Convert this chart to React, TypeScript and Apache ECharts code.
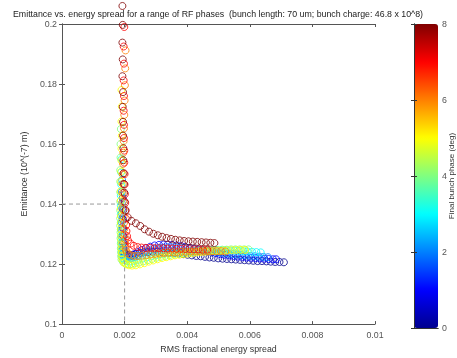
import React, { useEffect, useRef } from "react";
import * as echarts from "echarts";

const phaseValues = [0, 1, 2, 3, 4, 5, 6, 7, 8];
const phaseColors = ["#00008f", "#0000ff", "#0080ff", "#00ffff", "#80ff80", "#ffff00", "#ff8000", "#ff0000", "#800000"];

const xTicks = [0, 0.002, 0.004, 0.006, 0.008, 0.01];
const yTicks = [0.1, 0.12, 0.14, 0.16, 0.18, 0.2];
const colorbarTicks = [0, 2, 4, 6, 8];
const guideX = [0, 0.002, 0.002];
const guideY = [0.14, 0.14, 0.1];

const phase0 = [[0.00196,0.1380],[0.00195,0.1348],[0.00195,0.1318],[0.00196,0.1292],[0.00196,0.1270],[0.00197,0.1253],[0.00198,0.1242],[0.00201,0.1235],[0.00207,0.1231],[0.00215,0.1230],[0.00225,0.1231],[0.00236,0.1234],[0.00248,0.1237],[0.00261,0.1239],[0.00275,0.1240],[0.00289,0.1241],[0.00303,0.1241],[0.00317,0.1240],[0.00331,0.1239],[0.00345,0.1238],[0.00359,0.1237],[0.00373,0.1235],[0.00387,0.1233],[0.00401,0.1231],[0.00415,0.1229],[0.00429,0.1227],[0.00443,0.1226],[0.00457,0.1224],[0.00471,0.1222],[0.00485,0.1221],[0.00499,0.1219],[0.00513,0.1218],[0.00527,0.1217],[0.00541,0.1216],[0.00555,0.1215],[0.00569,0.1214],[0.00583,0.1213],[0.00597,0.1212],[0.00611,0.1211],[0.00625,0.1210],[0.00639,0.1210],[0.00653,0.1209],[0.00667,0.1208],[0.00681,0.1207],[0.00695,0.1207],[0.00709,0.1206]];
const phase1 = [[0.00194,0.1420],[0.00193,0.1385],[0.00193,0.1352],[0.00193,0.1323],[0.00194,0.1297],[0.00194,0.1274],[0.00195,0.1255],[0.00196,0.1240],[0.00199,0.1230],[0.00205,0.1225],[0.00213,0.1224],[0.00222,0.1227],[0.00232,0.1233],[0.00243,0.1240],[0.00255,0.1247],[0.00268,0.1253],[0.00282,0.1258],[0.00296,0.1262],[0.00310,0.1264],[0.00324,0.1265],[0.00338,0.1265],[0.00352,0.1264],[0.00366,0.1262],[0.00380,0.1260],[0.00394,0.1257],[0.00408,0.1254],[0.00422,0.1251],[0.00436,0.1248],[0.00450,0.1245],[0.00464,0.1242],[0.00478,0.1239],[0.00492,0.1236],[0.00506,0.1233],[0.00520,0.1231],[0.00534,0.1229],[0.00548,0.1227],[0.00562,0.1225],[0.00576,0.1224],[0.00590,0.1222],[0.00604,0.1221],[0.00618,0.1220],[0.00632,0.1219],[0.00646,0.1218],[0.00660,0.1217],[0.00674,0.1216],[0.00684,0.1216]];
const phase2 = [[0.00192,0.1480],[0.00191,0.1440],[0.00191,0.1403],[0.00191,0.1370],[0.00191,0.1340],[0.00192,0.1313],[0.00192,0.1289],[0.00193,0.1268],[0.00193,0.1250],[0.00194,0.1236],[0.00197,0.1226],[0.00203,0.1220],[0.00211,0.1218],[0.00220,0.1219],[0.00230,0.1223],[0.00241,0.1229],[0.00253,0.1235],[0.00266,0.1241],[0.00280,0.1246],[0.00294,0.1250],[0.00308,0.1253],[0.00322,0.1255],[0.00336,0.1256],[0.00350,0.1256],[0.00364,0.1256],[0.00378,0.1255],[0.00392,0.1254],[0.00406,0.1252],[0.00420,0.1251],[0.00434,0.1249],[0.00448,0.1247],[0.00462,0.1245],[0.00476,0.1243],[0.00490,0.1241],[0.00504,0.1239],[0.00518,0.1237],[0.00532,0.1235],[0.00546,0.1233],[0.00560,0.1232],[0.00574,0.1230],[0.00588,0.1229],[0.00602,0.1227],[0.00616,0.1226],[0.00630,0.1225],[0.00644,0.1224],[0.00658,0.1223]];
const phase3 = [[0.00190,0.1550],[0.00189,0.1505],[0.00189,0.1465],[0.00188,0.1428],[0.00188,0.1395],[0.00188,0.1365],[0.00188,0.1338],[0.00188,0.1314],[0.00189,0.1292],[0.00189,0.1273],[0.00190,0.1256],[0.00190,0.1241],[0.00191,0.1229],[0.00194,0.1219],[0.00200,0.1213],[0.00208,0.1210],[0.00218,0.1209],[0.00230,0.1211],[0.00243,0.1214],[0.00257,0.1218],[0.00271,0.1222],[0.00285,0.1226],[0.00299,0.1229],[0.00313,0.1232],[0.00327,0.1234],[0.00341,0.1236],[0.00355,0.1238],[0.00369,0.1240],[0.00383,0.1241],[0.00397,0.1242],[0.00411,0.1243],[0.00425,0.1244],[0.00439,0.1245],[0.00453,0.1245],[0.00467,0.1246],[0.00481,0.1246],[0.00495,0.1246],[0.00509,0.1246],[0.00523,0.1246],[0.00537,0.1245],[0.00551,0.1245],[0.00565,0.1244],[0.00579,0.1243],[0.00593,0.1242],[0.00607,0.1241],[0.00621,0.1240],[0.00635,0.1239]];
const phase4 = [[0.00188,0.1650],[0.00187,0.1600],[0.00187,0.1555],[0.00186,0.1513],[0.00186,0.1475],[0.00186,0.1440],[0.00186,0.1408],[0.00186,0.1379],[0.00186,0.1352],[0.00186,0.1328],[0.00187,0.1306],[0.00187,0.1286],[0.00188,0.1268],[0.00188,0.1252],[0.00189,0.1238],[0.00189,0.1226],[0.00190,0.1215],[0.00195,0.1207],[0.00202,0.1202],[0.00211,0.1200],[0.00221,0.1200],[0.00233,0.1202],[0.00246,0.1205],[0.00260,0.1209],[0.00274,0.1213],[0.00288,0.1217],[0.00302,0.1221],[0.00316,0.1224],[0.00330,0.1227],[0.00344,0.1230],[0.00358,0.1232],[0.00372,0.1234],[0.00386,0.1236],[0.00400,0.1238],[0.00414,0.1240],[0.00428,0.1241],[0.00442,0.1243],[0.00456,0.1244],[0.00470,0.1245],[0.00484,0.1246],[0.00498,0.1247],[0.00512,0.1248],[0.00526,0.1248],[0.00540,0.1249],[0.00554,0.1249],[0.00568,0.1249],[0.00582,0.1249],[0.00596,0.1249]];
const phase5 = [[0.00190,0.1780],[0.00191,0.1725],[0.00190,0.1675],[0.00191,0.1628],[0.00190,0.1585],[0.00190,0.1545],[0.00189,0.1508],[0.00189,0.1474],[0.00188,0.1442],[0.00188,0.1412],[0.00188,0.1385],[0.00188,0.1360],[0.00188,0.1337],[0.00188,0.1316],[0.00189,0.1297],[0.00189,0.1280],[0.00190,0.1264],[0.00190,0.1250],[0.00191,0.1237],[0.00192,0.1225],[0.00193,0.1214],[0.00198,0.1205],[0.00205,0.1199],[0.00214,0.1196],[0.00224,0.1195],[0.00236,0.1196],[0.00249,0.1199],[0.00263,0.1203],[0.00277,0.1208],[0.00291,0.1212],[0.00305,0.1216],[0.00319,0.1220],[0.00333,0.1223],[0.00347,0.1226],[0.00361,0.1229],[0.00375,0.1231],[0.00389,0.1233],[0.00403,0.1235],[0.00417,0.1237],[0.00431,0.1239],[0.00445,0.1240],[0.00459,0.1241],[0.00473,0.1242],[0.00487,0.1243],[0.00501,0.1244],[0.00515,0.1245],[0.00529,0.1246],[0.00543,0.1246],[0.00557,0.1247],[0.00571,0.1247],[0.00585,0.1247]];
const phase6 = [[0.00203,0.1912],[0.00202,0.1852],[0.00201,0.1796],[0.00200,0.1745],[0.00199,0.1697],[0.00198,0.1652],[0.00197,0.1610],[0.00196,0.1571],[0.00195,0.1534],[0.00194,0.1499],[0.00194,0.1467],[0.00194,0.1437],[0.00195,0.1409],[0.00196,0.1383],[0.00197,0.1359],[0.00198,0.1337],[0.00199,0.1317],[0.00200,0.1299],[0.00201,0.1283],[0.00202,0.1269],[0.00203,0.1257],[0.00204,0.1247],[0.00207,0.1239],[0.00213,0.1233],[0.00221,0.1229],[0.00231,0.1227],[0.00243,0.1227],[0.00256,0.1228],[0.00270,0.1230],[0.00284,0.1232],[0.00298,0.1234],[0.00312,0.1235],[0.00326,0.1237],[0.00340,0.1238],[0.00354,0.1239],[0.00368,0.1240],[0.00382,0.1241],[0.00396,0.1241],[0.00410,0.1242],[0.00424,0.1242],[0.00438,0.1243],[0.00452,0.1243],[0.00466,0.1243],[0.00480,0.1243],[0.00494,0.1243],[0.00508,0.1243],[0.00522,0.1242]];
const phase7 = [[0.00199,0.1990],[0.00197,0.1925],[0.00198,0.1868],[0.00197,0.1812],[0.00198,0.1760],[0.00197,0.1711],[0.00198,0.1664],[0.00198,0.1620],[0.00199,0.1578],[0.00199,0.1538],[0.00200,0.1500],[0.00200,0.1465],[0.00201,0.1433],[0.00202,0.1404],[0.00203,0.1377],[0.00204,0.1352],[0.00205,0.1330],[0.00206,0.1310],[0.00208,0.1293],[0.00211,0.1279],[0.00219,0.1268],[0.00229,0.1261],[0.00241,0.1257],[0.00254,0.1255],[0.00268,0.1254],[0.00282,0.1254],[0.00296,0.1253],[0.00310,0.1253],[0.00324,0.1253],[0.00338,0.1252],[0.00352,0.1252],[0.00366,0.1251],[0.00380,0.1251],[0.00394,0.1250],[0.00408,0.1250],[0.00422,0.1249],[0.00436,0.1249],[0.00450,0.1248],[0.00464,0.1248]];
const phase8 = [[0.00193,0.2060],[0.00194,0.1997],[0.00193,0.1938],[0.00194,0.1882],[0.00193,0.1826],[0.00195,0.1773],[0.00194,0.1724],[0.00195,0.1674],[0.00195,0.1628],[0.00196,0.1586],[0.00196,0.1546],[0.00197,0.1503],[0.00198,0.1467],[0.00199,0.1438],[0.00200,0.1408],[0.00203,0.1380],[0.00210,0.1356],[0.00222,0.1344],[0.00236,0.1336],[0.00250,0.1327],[0.00264,0.1316],[0.00278,0.1308],[0.00292,0.1301],[0.00306,0.1296],[0.00320,0.1291],[0.00334,0.1287],[0.00348,0.1284],[0.00362,0.1281],[0.00376,0.1279],[0.00390,0.1277],[0.00404,0.1276],[0.00418,0.1275],[0.00432,0.1274],[0.00446,0.1273],[0.00460,0.1272],[0.00474,0.1271],[0.00487,0.1270]];

const curves = [phase0, phase1, phase2, phase3, phase4, phase5, phase6, phase7, phase8];

const titleText = "Emittance vs. energy spread for a range of RF phases  (bunch length: 70 um; bunch charge: 46.8 x 10^8)";
const xName = "RMS fractional energy spread";
const yName = "Emittance (10^(-7) m)";
const cbName = "Final bunch phase (deg)";

const FONT = "Liberation Sans, Arial, Helvetica, sans-serif";
const AXC = "#555";
const FS = 8.8;

export default function App() {
  const ref = useRef<HTMLDivElement>(null);
  useEffect(() => {
    const chart = echarts.init(ref.current!, null, { renderer: "svg" });
    const mainAxisCommon = {
      axisLine: { show: true, lineStyle: { color: AXC, width: 1 } },
      axisTick: { show: true, inside: true, length: 3, lineStyle: { color: AXC } },
      splitLine: { show: false },
    };
    const xMin = xTicks[0], xMax = xTicks[xTicks.length - 1], xInt = xTicks[1] - xTicks[0];
    const yMin = yTicks[0], yMax = yTicks[yTicks.length - 1], yInt = 0.02;
    const cbMin = colorbarTicks[0], cbMax = colorbarTicks[colorbarTicks.length - 1];
    const option: any = {
      animation: false,
      textStyle: { fontFamily: FONT },
      title: {
        text: titleText,
        left: 213,
        top: 4,
        textAlign: "center",
        textStyle: { fontSize: FS, fontWeight: "normal", color: "#222", fontFamily: FONT },
      },
      grid: [
        { left: 62, top: 24, width: 313, height: 304 },
        { left: 414, top: 24, width: 24, height: 304 },
      ],
      xAxis: [
        {
          ...mainAxisCommon, gridIndex: 0, type: "value", position: "bottom",
          min: xMin, max: xMax, interval: xInt,
          axisLabel: { fontSize: FS, color: AXC, margin: 6, fontFamily: FONT },
          name: xName, nameLocation: "middle", nameGap: 15,
          nameTextStyle: { fontSize: FS, color: "#333", fontFamily: FONT },
        },
        {
          ...mainAxisCommon, gridIndex: 0, type: "value", position: "top",
          min: xMin, max: xMax, interval: xInt, axisLabel: { show: false },
        },
        {
          gridIndex: 1, type: "value", position: "bottom", min: 0, max: 1, z: 10,
          axisLine: { show: true, lineStyle: { color: "#333" } },
          axisTick: { show: false }, axisLabel: { show: false }, splitLine: { show: false },
        },
        {
          gridIndex: 1, type: "value", position: "top", min: 0, max: 1, z: 10,
          axisLine: { show: true, lineStyle: { color: "#333" } },
          axisTick: { show: false }, axisLabel: { show: false }, splitLine: { show: false },
        },
      ],
      yAxis: [
        {
          ...mainAxisCommon, gridIndex: 0, type: "value", position: "left",
          min: yMin, max: yMax, interval: yInt,
          axisLabel: { fontSize: FS, color: AXC, margin: 5, fontFamily: FONT },
          name: yName, nameLocation: "middle", nameGap: 21, nameRotate: 90,
          nameTextStyle: { fontSize: FS, color: "#333", fontFamily: FONT },
        },
        {
          ...mainAxisCommon, gridIndex: 0, type: "value", position: "right",
          min: yMin, max: yMax, interval: yInt, axisLabel: { show: false },
        },
        {
          gridIndex: 1, type: "value", position: "right", min: cbMin, max: cbMax, interval: 2, z: 10,
          axisLine: { show: true, lineStyle: { color: "#333" } },
          axisTick: { show: true, inside: true, length: 3, lineStyle: { color: "#333" } },
          axisLabel: { fontSize: FS, color: AXC, margin: 4, fontFamily: FONT },
          splitLine: { show: false },
        },
        {
          gridIndex: 1, type: "value", position: "left", min: cbMin, max: cbMax, interval: 2, z: 10,
          axisLine: { show: true, lineStyle: { color: "#333" } },
          axisTick: { show: true, inside: true, length: 3, lineStyle: { color: "#333" } },
          axisLabel: { show: false }, splitLine: { show: false },
        },
      ],
      visualMap: {
        type: "continuous",
        min: cbMin,
        max: cbMax,
        seriesIndex: [],
        calculable: false,
        left: 414,
        top: 24,
        itemWidth: 24,
        itemHeight: 304,
        padding: 0,
        text: null,
        inRange: { color: phaseColors },
      },
      graphic: [
        {
          type: "text",
          x: 451,
          y: 176,
          rotation: Math.PI / 2,
          style: { text: cbName, fontSize: 8, fill: "#333", align: "center", verticalAlign: "middle", fontFamily: FONT },
        },
      ],
      series: [
        {
          type: "line",
          xAxisIndex: 0,
          yAxisIndex: 0,
          data: guideX.map((x, i) => [x, guideY[i]]),
          symbol: "none",
          silent: true,
          lineStyle: { type: [4, 3], color: "#999", width: 1 },
        },
        ...curves.map((c, i) => ({
          type: "scatter",
          name: String(phaseValues[i]),
          xAxisIndex: 0,
          yAxisIndex: 0,
          data: c,
          symbol: "circle",
          symbolSize: 7,
          clip: false,
          silent: true,
          itemStyle: { color: "rgba(0,0,0,0)", borderColor: phaseColors[i], borderWidth: 1 },
        })),
      ],
    };
    chart.setOption(option);
    return () => chart.dispose();
  }, []);
  return <div ref={ref} style={{ position: "fixed", left: 0, top: 0, width: 457, height: 358 }} />;
}
